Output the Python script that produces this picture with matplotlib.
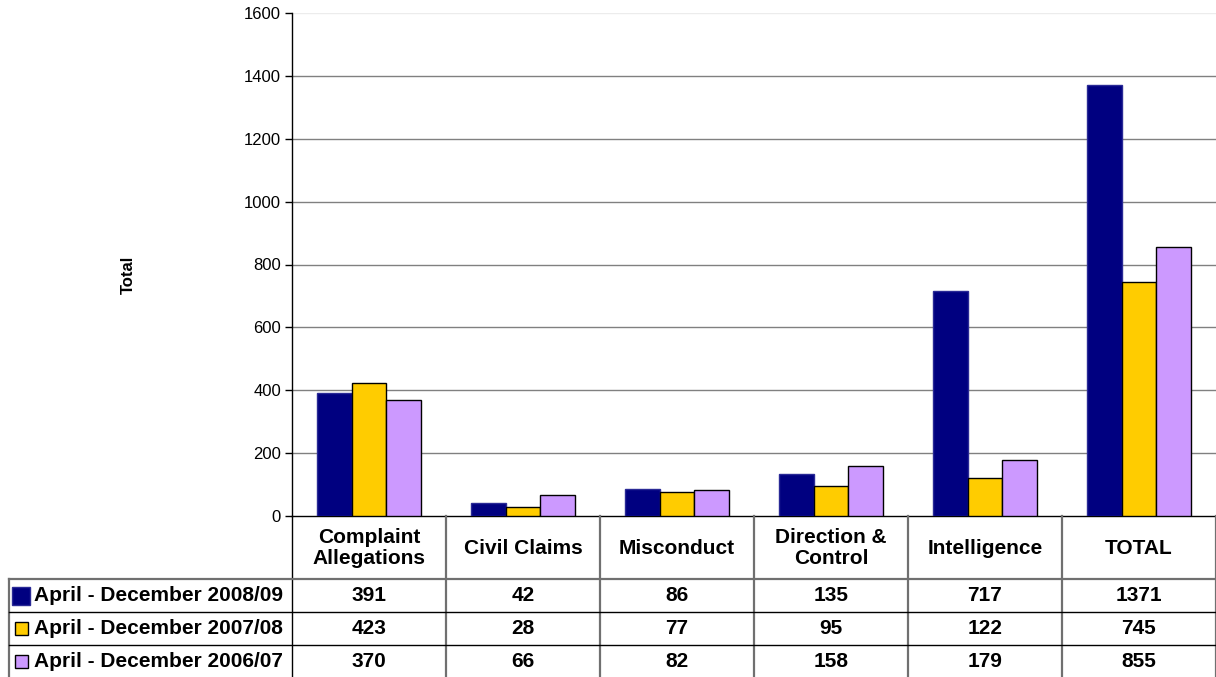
import numpy as np
import matplotlib
matplotlib.use("Agg")
import matplotlib.pyplot as plt
from matplotlib.transforms import blended_transform_factory
from matplotlib.patches import Rectangle

plt.rcParams['font.family'] = ['Liberation Sans', 'DejaVu Sans']

categories = ["Complaint\nAllegations", "Civil Claims", "Misconduct",
              "Direction &\nControl", "Intelligence", "TOTAL"]
series_names = ["April - December 2008/09",
                "April - December 2007/08",
                "April - December 2006/07"]
vals_0809 = [391, 42, 86, 135, 717, 1371]
vals_0708 = [423, 28, 77, 95, 122, 745]
vals_0607 = [370, 66, 82, 158, 179, 855]
series = [vals_0809, vals_0708, vals_0607]
colors = ["#000080", "#FFCC00", "#CC99FF"]
edges = ["#2a2a96", "black", "black"]

W, H = 1216, 677
fig = plt.figure(figsize=(W / 100, H / 100), dpi=100)
ax = fig.add_axes([292 / W, 1 - 516 / H, 1 - 292 / W, (516 - 13) / H])

x = np.arange(len(categories))
bw = 0.227
for i, (vals, c, ec) in enumerate(zip(series, colors, edges)):
    ax.bar(x + (i - 1) * bw, vals, width=bw, color=c, edgecolor=ec,
           linewidth=1.0, zorder=3)

ax.set_xlim(-0.5, len(categories) - 0.5)
ax.set_ylim(0, 1600)
ax.set_yticks(np.arange(0, 1601, 200))
ax.set_xticks([])
ax.tick_params(axis='y', length=5, width=1, labelsize=12, pad=3)
for y in range(200, 1601, 200):
    ax.axhline(y, color="#808080" if y < 1600 else "#ececec", lw=1, zorder=1)
for s in ["top", "right"]:
    ax.spines[s].set_visible(False)
ax.spines["left"].set_linewidth(1)
ax.spines["bottom"].set_linewidth(1)
ax.set_ylabel("Total", fontsize=12, fontweight="bold")
ax.yaxis.set_label_coords((136 - 292) / 924, (516 - 275) / 503)

# data table below the axes
tr = blended_transform_factory(ax.transData, fig.transFigure)
fy = lambda py: 1 - py / H
left_px = 9 / W
row_tops = [579, 612, 645, 678]
fs = 15

# vertical separators between columns
for b in np.arange(-0.5, len(categories) + 0.5, 1.0):
    fig.add_artist(plt.Line2D([b, b], [fy(516), fy(677)], transform=tr,
                              color="black" if b < 0 else "#707070",
                              lw=1 if b < 0 else 1.6))
fig.add_artist(plt.Line2D([left_px, left_px], [fy(579), fy(677)],
                          color="#707070", lw=1.6))
fig.add_artist(plt.Line2D([left_px, 1], [fy(579), fy(579)],
                          color="#707070", lw=1.6))
for py in row_tops[1:3]:
    fig.add_artist(plt.Line2D([left_px, 1], [fy(py), fy(py)],
                              color="black", lw=1))

for j, cat in enumerate(categories):
    fig.text(x[j], fy(548), cat, transform=tr, ha="center", va="center",
             fontsize=fs, fontweight="bold", linespacing=1.15)

for i, (name, vals, c, ec) in enumerate(zip(series_names, series, colors, edges)):
    yc = fy((row_tops[i] + row_tops[i + 1]) / 2)
    sz = 18 if i == 0 else 13
    kx = 12 if i == 0 else 15
    fig.add_artist(Rectangle((kx / W, yc - sz / 2 / H), sz / W, sz / H,
                             transform=fig.transFigure, facecolor=c,
                             edgecolor=ec, lw=1))
    fig.text(34 / W, yc, name, ha="left", va="center", fontsize=fs,
             fontweight="bold")
    for j, v in enumerate(vals):
        fig.text(x[j], yc, str(v), transform=tr, ha="center", va="center",
                 fontsize=fs, fontweight="bold")

fig.savefig("out.png", dpi=100)
